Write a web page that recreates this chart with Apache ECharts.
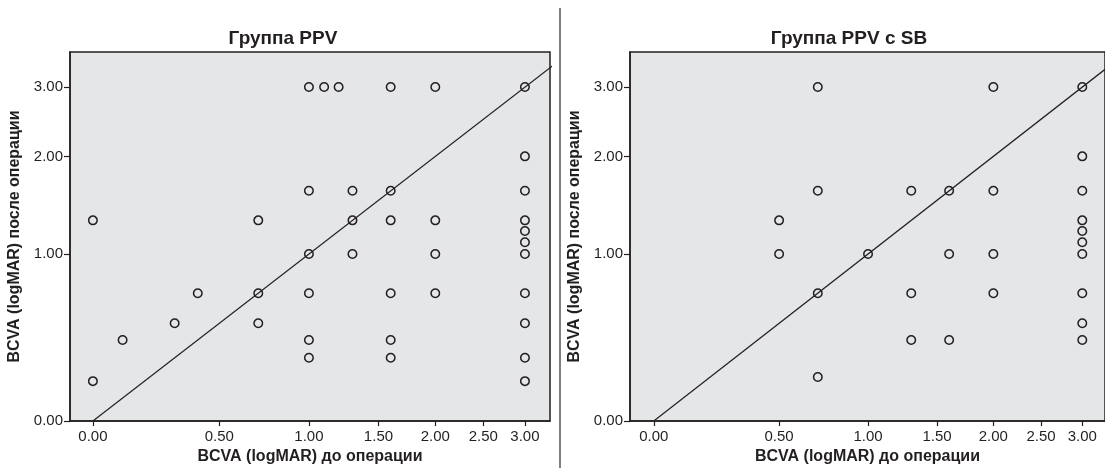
<!DOCTYPE html>
<html>
<head>
<meta charset="utf-8">
<script src="https://cdn.jsdelivr.net/npm/echarts@6/dist/echarts.min.js"></script>
<style>
html,body{margin:0;padding:0;background:#fff;}
#c{width:1105px;height:470px;}
</style>
</head>
<body>
<div id="c"></div>
<script>
// Data (logMAR values)
const titles = ['Группа PPV', 'Группа PPV с SB'];
const xName = 'BCVA (logMAR) до операции';
const yName = 'BCVA (logMAR) после операции';
const xTicks = [0, 0.5, 1, 1.5, 2, 2.5, 3];
const yTicks = [0, 1, 2, 3];

const ppvBefore = [0, 0, 0.1, 0.3, 0.4, 0.7, 0.7, 0.7, 1, 1, 1, 1, 1, 1, 1.1, 1.2, 1.3, 1.3, 1.3,
  1.6, 1.6, 1.6, 1.6, 1.6, 1.6, 2, 2, 2, 2, 3, 3, 3, 3, 3, 3, 3, 3, 3, 3, 3];
const ppvAfter = [1.3, 0.18, 0.4, 0.5, 0.7, 1.3, 0.7, 0.5, 3, 1.6, 1, 0.7, 0.4, 0.3, 3, 3, 1.6, 1.3, 1,
  3, 1.6, 1.3, 0.7, 0.4, 0.3, 3, 1.3, 1, 0.7, 3, 2, 1.6, 1.3, 1.2, 1.1, 1, 0.7, 0.5, 0.3, 0.18];

const sbBefore = [0.5, 0.5, 0.7, 0.7, 0.7, 0.7, 1, 1.3, 1.3, 1.3, 1.6, 1.6, 1.6, 2, 2, 2, 2,
  3, 3, 3, 3, 3, 3, 3, 3, 3, 3];
const sbAfter = [1.3, 1, 3, 1.6, 0.7, 0.2, 1, 1.6, 0.7, 0.4, 1.6, 1, 0.4, 3, 1.6, 1, 0.7,
  3, 2, 1.6, 1.3, 1.2, 1.1, 1, 0.7, 0.5, 0.4];

const refLine = [0, 4];

// log(v+1) scale as in the reference
const tf = v => Math.log2(v + 1);
const inv = t => Math.pow(2, t) - 1;
const fmt = t => inv(t).toFixed(2);

const FONT = 'Liberation Sans, Arial, sans-serif';
const INK = '#231f20';

function pts(xs, ys) { return xs.map((x, i) => [tf(x), tf(ys[i])]); }

function xAxis(idx, min, max) {
  return {
    type: 'value', gridIndex: idx, min: min, max: max,
    name: xName, nameLocation: 'middle', nameGap: 27,
    nameTextStyle: { fontFamily: FONT, fontSize: 16, fontWeight: 'bold', color: INK },
    splitLine: { show: false },
    axisLine: { show: true, onZero: false, lineStyle: { color: INK, width: 1.5 } },
    axisTick: { show: true, length: 5, lineStyle: { color: INK, width: 1.2 }, customValues: xTicks.map(tf) },
    axisLabel: { fontFamily: FONT, fontSize: 15, color: INK, margin: 8, formatter: fmt, customValues: xTicks.map(tf) }
  };
}
function yAxis(idx) {
  return {
    type: 'value', gridIndex: idx, min: 0, max: 2.21,
    name: yName, nameLocation: 'middle', nameGap: 47, nameRotate: 90,
    nameTextStyle: { fontFamily: FONT, fontSize: 16, fontWeight: 'bold', color: INK },
    splitLine: { show: false },
    axisLine: { show: true, onZero: false, lineStyle: { color: INK, width: 1.5 } },
    axisTick: { show: true, length: 6, lineStyle: { color: INK, width: 1.2 }, customValues: yTicks.map(tf) },
    axisLabel: { fontFamily: FONT, fontSize: 15, color: INK, margin: 7, formatter: fmt, customValues: yTicks.map(tf) }
  };
}
function scatter(idx, xs, ys) {
  return {
    type: 'scatter', xAxisIndex: idx, yAxisIndex: idx, data: pts(xs, ys),
    symbol: 'circle', symbolSize: 8.5, silent: true,
    itemStyle: { color: 'rgba(0,0,0,0)', borderColor: INK, borderWidth: 1.5, opacity: 1 }
  };
}
function line(idx) {
  return {
    type: 'line', xAxisIndex: idx, yAxisIndex: idx, data: pts(refLine, refLine),
    symbol: 'none', clip: true, silent: true,
    lineStyle: { color: INK, width: 1.2 }
  };
}

const chart = echarts.init(document.getElementById('c'), null, { renderer: 'canvas' });
chart.setOption({
  animation: false,
  backgroundColor: '#ffffff',
  title: [
    { text: titles[0], left: 278, top: 24, textAlign: 'center',
      textStyle: { fontFamily: FONT, fontSize: 19, fontWeight: 'bold', color: INK } },
    { text: titles[1], left: 844, top: 24, textAlign: 'center',
      textStyle: { fontFamily: FONT, fontSize: 19, fontWeight: 'bold', color: INK } }
  ],
  grid: [
    { left: 70, top: 52, width: 480, height: 369, show: true, backgroundColor: '#e5e6e8', borderColor: INK, borderWidth: 1.5 },
    { left: 630, top: 52, width: 480, height: 369, show: true, backgroundColor: '#e5e6e8', borderColor: INK, borderWidth: 1.5 }
  ],
  xAxis: [xAxis(0, -0.106, 2.116), xAxis(1, -0.111, 2.106)],
  yAxis: [yAxis(0), yAxis(1)],
  series: [line(0), scatter(0, ppvBefore, ppvAfter), line(1), scatter(1, sbBefore, sbAfter)],
  graphic: [
    { type: 'line', shape: { x1: 560, y1: 8, x2: 560, y2: 468 }, style: { stroke: '#555', lineWidth: 1.5 } }
  ]
});
</script>
</body>
</html>
